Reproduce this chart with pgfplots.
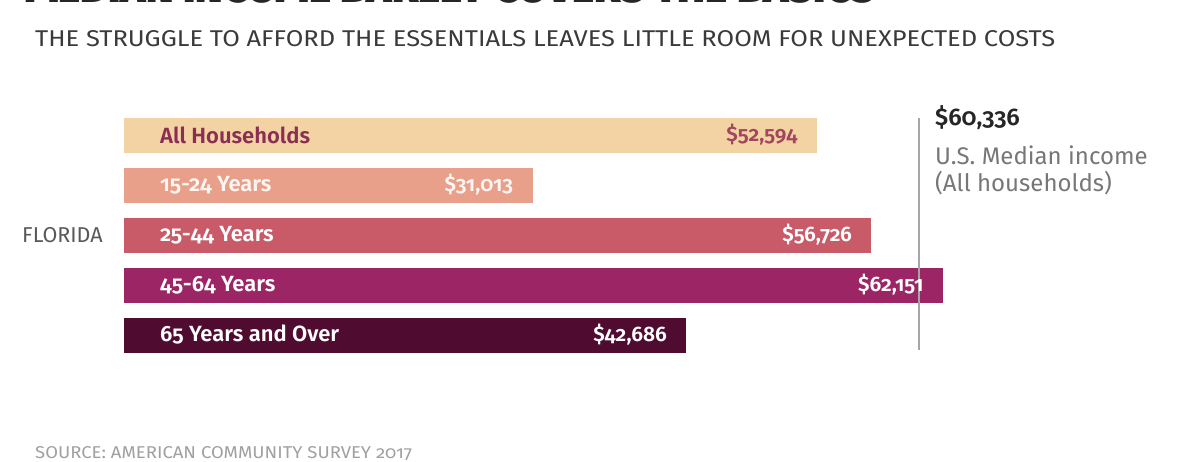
\documentclass[border=0pt]{standalone}
\usepackage{fontspec}
\setmainfont{Fira Sans}[Numbers=OldStyle]
\newfontfamily\semi{Fira Sans SemiBold}[Numbers=OldStyle]
\newfontfamily\heavy{Fira Sans Black}
\usepackage{pgfplots}
\pgfplotsset{compat=1.18}
\definecolor{cA}{HTML}{F3D3A3}
\definecolor{cB}{HTML}{E9A08A}
\definecolor{cC}{HTML}{C95A68}
\definecolor{cD}{HTML}{9C2566}
\definecolor{cE}{HTML}{4F0C30}
\definecolor{tA}{HTML}{8A2E55}
\definecolor{tAv}{HTML}{A2455E}
\definecolor{subg}{HTML}{3A3A3A}
\definecolor{lblg}{HTML}{777777}
\definecolor{srcg}{HTML}{A0A0A0}
\begin{document}
\begin{tikzpicture}[x=1pt,y=1pt]
\useasboundingbox (0,0) rectangle (1204,-461);
\fill[white] (0,0) rectangle (1204,-461);
\begin{scope}
\clip (0,0) rectangle (1204,-461);
\node[anchor=base west, inner sep=0pt, text=black!85] at (25,-2) {\resizebox{850pt}{30pt}{\heavy MEDIAN INCOME BARELY COVERS THE BASICS}};
\end{scope}
\node[anchor=base west, inner sep=0pt, text=subg] at (35,-46) {\resizebox{1020pt}{16pt}{THE STRUGGLE TO AFFORD THE ESSENTIALS LEAVES LITTLE ROOM FOR UNEXPECTED COSTS}};
\node[anchor=base west, inner sep=0pt, text=srcg] at (35,-458) {\resizebox{377pt}{12pt}{SOURCE: AMERICAN COMMUNITY SURVEY 2017}};
\node[anchor=base west, inner sep=0pt, text=black!65, font=\fontsize{21.5}{24}\selectfont] at (22,-242) {FLORIDA};
\begin{axis}[
  at={(124pt,-110pt)}, anchor=north west,
  scale only axis, width=922.32pt, height=250pt,
  xmin=0, xmax=70000, ymin=-0.5, ymax=4.5, y dir=reverse,
  axis lines=none, ticks=none, clip=false,
  barsty/.style={xbar, bar width=35pt, bar shift=0pt, draw=none,
    nodes near coords, point meta=explicit symbolic,
    every node near coord/.append style={anchor=east, xshift=-16pt, font=\semi\fontsize{21}{24}\selectfont, text=#1}},
]
\addplot[barsty=tAv, fill=cA] coordinates {(52594,0) [\$52,594]};
\addplot[barsty=white!90!cB, fill=cB] coordinates {(31013,1) [\$31,013]};
\addplot[barsty=white, fill=cC] coordinates {(56726,2) [\$56,726]};
\addplot[barsty=white, fill=cD] coordinates {(62151,3) [\$62,151]};
\addplot[barsty=white, fill=cE] coordinates {(42686,4) [\$42,686]};
\addplot[draw=black!35, line width=1.3pt, mark=none] coordinates {(60336,-0.34) (60336,4.3)};
\begin{scope}[every node/.style={anchor=west, inner sep=0pt, xshift=36pt, font=\semi\fontsize{22}{24}\selectfont}]
\node[text=tA] at (axis cs:0,0) {All Households};
\node[text=white!90!cB] at (axis cs:0,1) {15-24 Years};
\node[text=white] at (axis cs:0,2) {25-44 Years};
\node[text=white] at (axis cs:0,3) {45-64 Years};
\node[text=white] at (axis cs:0,4) {65 Years and Over};
\end{scope}
\end{axis}
\node[anchor=base west, inner sep=0pt, text=black!85, font=\semi\fontsize{24}{26}\selectfont] at (935,-125) {\$60,336};
\node[anchor=base west, inner sep=0pt, text=lblg, font=\fontsize{24}{26}\selectfont] at (935,-164) {U.S. Median income};
\node[anchor=base west, inner sep=0pt, text=lblg, font=\fontsize{24}{26}\selectfont] at (935,-191) {(All households)};
\end{tikzpicture}
\end{document}
